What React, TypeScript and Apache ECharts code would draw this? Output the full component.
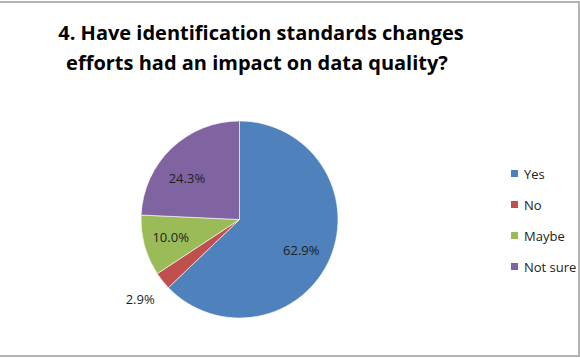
import React, { useEffect, useRef } from 'react';
import * as echarts from 'echarts';

const CATEGORIES = ['Yes', 'No', 'Maybe', 'Not sure'];
const VALUES = [62.9, 2.9, 10.0, 24.3];
const COLORS = ['#4F81BD', '#C0504D', '#9BBB59', '#8064A2'];
const TITLE_LINES = ['4. Have identification standards changes', 'efforts had an impact on data quality?'];

const CENTER = [239.5, 219.5];
const RADIUS = 98.5;
const LABEL_RADII = [69, 127, 71, 67];
const LABEL_ANGLE_SHIFT = [-3.4, 0, -1.2, 8];
const FONT = '"Open Sans", Lato, sans-serif';
const BORDER = '#b4b4b4';

export default function App() {
  const ref = useRef<HTMLDivElement>(null);
  useEffect(() => {
    if (!ref.current) return;
    const chart = echarts.init(ref.current, null, { renderer: 'svg' });
    const option = {
      animation: false,
      backgroundColor: '#ffffff',
      legend: {
        orient: 'vertical',
        left: 509,
        top: 166,
        padding: 0,
        itemWidth: 9,
        itemHeight: 9,
        itemGap: 16,
        icon: 'rect',
        data: CATEGORIES,
        textStyle: { fontFamily: FONT, fontSize: 13, lineHeight: 15, color: '#222' },
      },
      graphic: [
        { type: 'rect', shape: { x: 0, y: 1, width: 580, height: 2 }, style: { fill: BORDER } },
        { type: 'rect', shape: { x: 0, y: 355, width: 580, height: 2 }, style: { fill: BORDER } },
        { type: 'rect', shape: { x: 578, y: 1, width: 2, height: 356 }, style: { fill: BORDER } },
        ...TITLE_LINES.map((t, i) => ({
          type: 'text',
          x: i === 0 ? 261 : 257,
          y: 32 + i * 30,
          style: {
            text: t,
            textAlign: 'center',
            textVerticalAlign: 'middle',
            fontFamily: FONT,
            fontWeight: 'bold',
            fontSize: 20,
            fill: '#000',
          },
        })),
      ],
      series: [
        {
          type: 'pie',
          center: CENTER,
          radius: [0, RADIUS],
          startAngle: 90,
          clockwise: true,
          avoidLabelOverlap: false,
          itemStyle: { borderColor: '#ffffff', borderWidth: 0.6 },
          label: {
            show: true,
            position: 'inside',
            formatter: (p: any) => `${Number(p.value).toFixed(1)}%`,
            fontFamily: FONT,
            fontSize: 13,
            color: '#1e1e1e',
          },
          labelLine: { show: false },
          labelLayout: (p: any) => {
            const r = p.labelRect;
            const lx = r.x + r.width / 2;
            const ly = r.y + r.height / 2;
            const i = p.dataIndex;
            const ang = Math.atan2(-(ly - CENTER[1]), lx - CENTER[0]) + (LABEL_ANGLE_SHIFT[i] * Math.PI) / 180;
            return {
              x: CENTER[0] + LABEL_RADII[i] * Math.cos(ang),
              y: CENTER[1] - LABEL_RADII[i] * Math.sin(ang),
            };
          },
          data: CATEGORIES.map((name, i) => ({
            name,
            value: VALUES[i],
            itemStyle: { color: COLORS[i] },
          })),
        },
      ],
    };
    chart.setOption(option as any);
    return () => chart.dispose();
  }, []);
  return (
    <div
      ref={ref}
      style={{ position: 'absolute', left: 0, top: 0, width: 580, height: 358 }}
    />
  );
}
